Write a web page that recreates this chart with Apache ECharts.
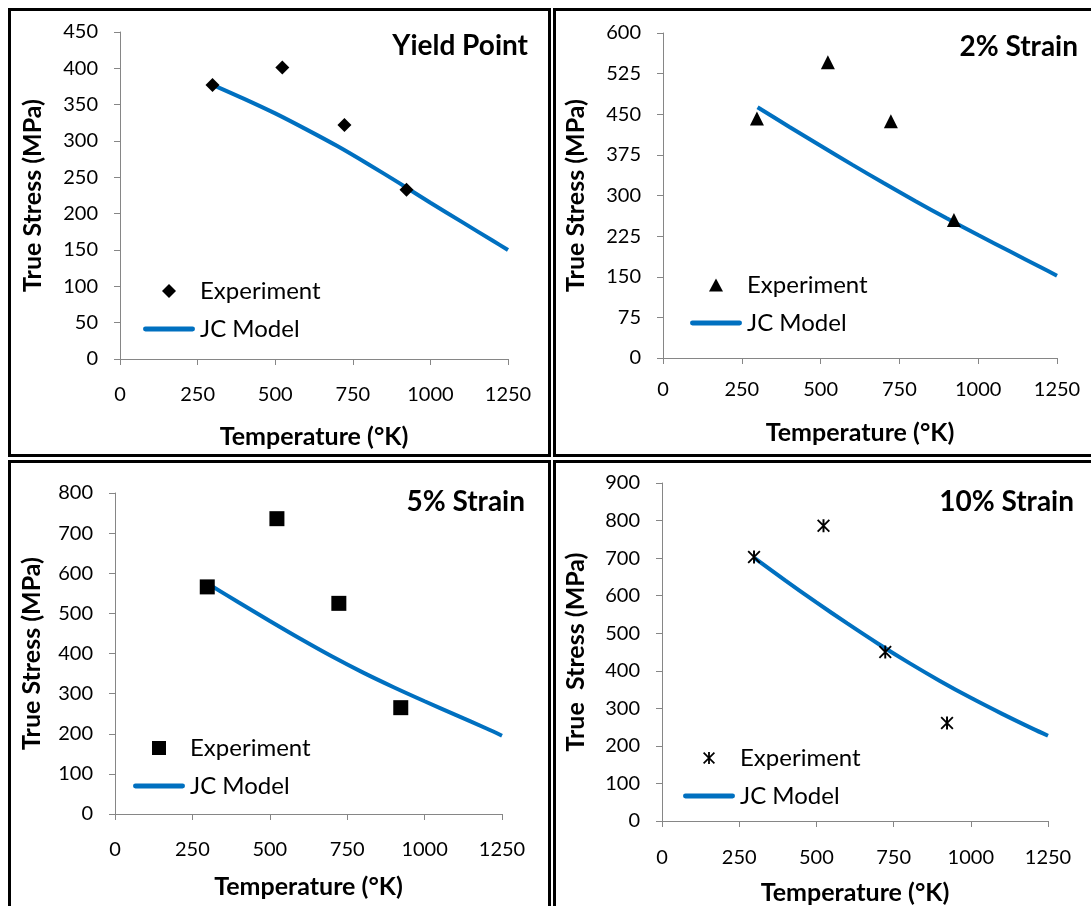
<!DOCTYPE html>
<html>
<head>
<meta charset="utf-8">
<script src="https://cdn.jsdelivr.net/npm/echarts@6/dist/echarts.min.js"></script>
<style>
  html, body { margin: 0; padding: 0; background: #fff; }
  #chart { width: 1091px; height: 906px; }
</style>
</head>
<body>
<div id="chart"></div>
<script>
const font = 'Lato, "Open Sans", sans-serif'

// experiment points (same temperatures in every panel)
const expTemps = [298, 523, 723, 923]
const yieldExp = [377, 401, 322, 233]
const strain2Exp = [442, 546, 437, 255]
const strain5Exp = [566, 736, 525, 265]
const strain10Exp = [703, 786, 450, 261]

// JC model curves
const modelTemps = [300, 400, 500, 600, 700, 800, 900, 1000, 1100, 1200, 1250]
const yieldModel = [377, 358, 338, 316, 293, 268, 242, 215, 189, 163, 150]
const strain2Model = [463, 427, 392, 357, 323, 290, 258, 227, 197, 167, 152]
const strain5Model = [574, 527, 481, 436, 393, 353, 316, 281, 247, 213, 195]
const strain10Model = [700, 640, 582, 526, 472, 421, 373, 328, 286, 246, 227]

const panelTitles = ['Yield Point', '2% Strain', '5% Strain', '10% Strain']
const yMax = [450, 600, 800, 900]
const yStep = [50, 75, 100, 100]
const yNames = ['True Stress (MPa)', 'True Stress (MPa)', 'True Stress (MPa)', 'True  Stress (MPa)']

const expSets = [yieldExp, strain2Exp, strain5Exp, strain10Exp]
const modelSets = [yieldModel, strain2Model, strain5Model, strain10Model]

// asterisk built from three filled bars so it fills like the other markers
const star = 'M0,1.2L1.2,0L12,10.8L10.8,12Z M10.8,0L12,1.2L1.2,12L0,10.8Z M5.1,0L6.9,0L6.9,12L5.1,12Z'
const markers = ['diamond', 'triangle', 'rect', 'path://' + star]
const markerSizes = [14, 14, 15, 13]

// legend icons padded to the 52x16 legend box so they stay centred
const pad = 'M0,0M52,16'
const legendIcons = [
  'path://' + pad + 'M26,1L33,8L26,15L19,8Z',
  'path://' + pad + 'M26,1.5L33,14.5L19,14.5Z',
  'path://' + pad + 'M19,1L33,1L33,15L19,15Z',
  'path://' + pad + star.replace(/(\d+(?:\.\d+)?),(\d+(?:\.\d+)?)/g, (m, a, b) => (+a + 20) + ',' + (+b + 2))
]
const lineIcon = 'path://' + pad + 'M2,5.5L50,5.5Q52.5,5.5 52.5,8Q52.5,10.5 50,10.5L2,10.5Q-0.5,10.5 -0.5,8Q-0.5,5.5 2,5.5Z'

const grids = [
  { left: 120, top: 32, width: 388, height: 327 },
  { left: 663, top: 33, width: 394, height: 325 },
  { left: 115, top: 493, width: 387, height: 321 },
  { left: 662, top: 483, width: 386, height: 338 }
]
const xLabelMargin = [26, 22, 26, 27]
const xNameGap = [65, 62, 60, 59]
const yNameGap = [75, 75, 71, 74]
const legendPos = [
  { left: 143, top: 279 },
  { left: 690, top: 273 },
  { left: 133, top: 736 },
  { left: 683, top: 746 }
]
const titlePos = [
  { right: 563, top: 32 },
  { right: 13, top: 33 },
  { right: 566, top: 488 },
  { right: 17, top: 488 }
]

const axisGray = '#868686'

const xAxes = grids.map((g, i) => ({
  gridIndex: i,
  type: 'value',
  min: 0,
  max: 1250,
  interval: 250,
  axisLine: { lineStyle: { color: axisGray } },
  axisTick: { length: 6, lineStyle: { color: axisGray } },
  splitLine: { show: false },
  axisLabel: { color: '#000', fontSize: 20, margin: xLabelMargin[i], fontFamily: font, formatter: v => String(v) },
  name: 'Temperature (°K)',
  nameLocation: 'middle',
  nameGap: xNameGap[i],
  nameTextStyle: { color: '#000', fontWeight: 'bold', fontSize: 25, fontFamily: font }
}))

const yAxes = grids.map((g, i) => ({
  gridIndex: i,
  type: 'value',
  min: 0,
  max: yMax[i],
  interval: yStep[i],
  axisLine: { show: true, lineStyle: { color: axisGray } },
  axisTick: { show: true, length: 6, lineStyle: { color: axisGray } },
  splitLine: { show: false },
  axisLabel: { color: '#000', fontSize: 20, margin: 22, fontFamily: font, formatter: v => String(v) },
  name: yNames[i],
  nameLocation: 'middle',
  nameGap: yNameGap[i],
  nameTextStyle: { color: '#000', fontWeight: 'bold', fontSize: 25, fontFamily: font }
}))

const series = []
grids.forEach((g, i) => {
  series.push({
    name: 'Experiment',
    type: 'scatter',
    xAxisIndex: i,
    yAxisIndex: i,
    symbol: markers[i],
    symbolSize: markerSizes[i],
    itemStyle: { color: '#000', opacity: 1 },
    data: expTemps.map((t, k) => [t, expSets[i][k]]),
    z: 3
  })
  series.push({
    name: 'JC Model',
    type: 'line',
    xAxisIndex: i,
    yAxisIndex: i,
    smooth: 0.3,
    symbol: 'none',
    lineStyle: { color: '#0070C0', width: 4 },
    itemStyle: { color: '#0070C0' },
    data: modelTemps.map((t, k) => [t, modelSets[i][k]]),
    z: 2
  })
})

const legends = grids.map((g, i) => ({
  orient: 'vertical',
  left: legendPos[i].left,
  top: legendPos[i].top,
  padding: 0,
  itemWidth: 52,
  itemHeight: 16,
  itemGap: 14,
  selectedMode: false,
  textStyle: { color: '#000', fontSize: 24, lineHeight: 24, fontFamily: font },
  data: [
    { name: 'Experiment', icon: legendIcons[i], itemStyle: { color: '#000', opacity: 1 } },
    { name: 'JC Model', icon: lineIcon, itemStyle: { color: '#0070C0' } }
  ]
}))

const titles = panelTitles.map((t, i) => ({
  text: t,
  right: titlePos[i].right,
  top: titlePos[i].top,
  padding: 0,
  textStyle: { color: '#000', fontWeight: 'bold', fontSize: 28, fontFamily: font }
}))

// panel frames
const frames = [
  { x: 9.5, y: 9.5, width: 540, height: 446 },
  { x: 554.5, y: 9.5, width: 545, height: 446 },
  { x: 9.5, y: 461.5, width: 540, height: 460 },
  { x: 554.5, y: 461.5, width: 545, height: 460 }
].map(r => ({
  type: 'rect',
  shape: r,
  style: { fill: 'none', stroke: '#000', lineWidth: 3 },
  silent: true
}))

const chart = echarts.init(document.getElementById('chart'))
chart.setOption({
  animation: false,
  backgroundColor: '#fff',
  title: titles,
  legend: legends,
  grid: grids,
  xAxis: xAxes,
  yAxis: yAxes,
  series,
  graphic: frames
})
</script>
</body>
</html>
